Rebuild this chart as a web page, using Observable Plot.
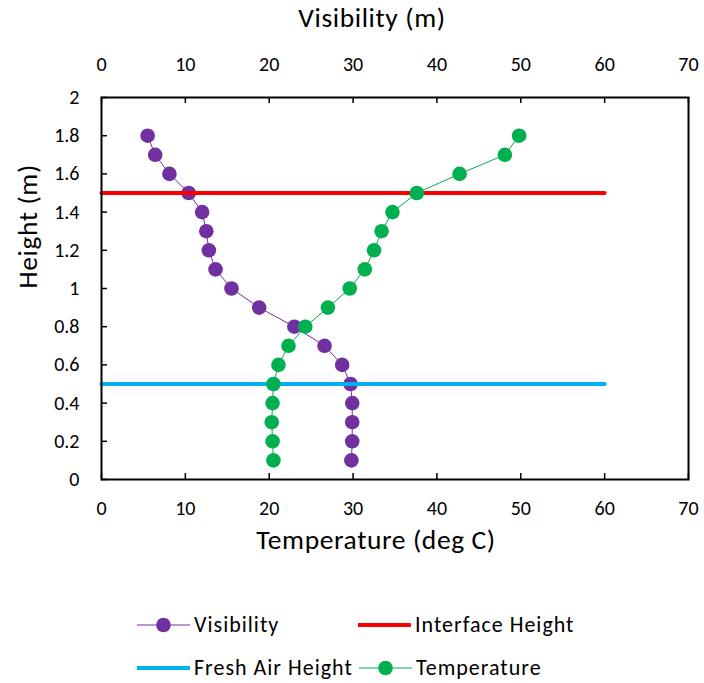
<!DOCTYPE html>
<html>
<head>
<meta charset="utf-8">
<script src="https://cdn.jsdelivr.net/npm/d3@7"></script>
<script src="https://cdn.jsdelivr.net/npm/@observablehq/plot@0.6"></script>
<style>
  html, body { margin: 0; padding: 0; background: #fff; }
  body { font-family: Carlito, Calibri, Lato, "Open Sans", sans-serif; }
  #wrap { position: relative; width: 704px; height: 683px; overflow: hidden; }
  .item { position: absolute; display: flex; align-items: center; font-size: 22px; letter-spacing: 1px; color: #000; white-space: nowrap; }
  .item svg { margin-right: 4px; }
  .axis-title { letter-spacing: 0.6px; }
</style>
</head>
<body>
<div id="wrap"></div>
<script>
// Measurement heights (m)
const heights = [1.8, 1.7, 1.6, 1.5, 1.4, 1.3, 1.2, 1.1, 1.0, 0.9, 0.8, 0.7, 0.6, 0.5, 0.4, 0.3, 0.2, 0.1];
// Visibility (m) at each height
const visibility = [5.5, 6.4, 8.1, 10.4, 12.0, 12.5, 12.8, 13.6, 15.5, 18.8, 23.0, 26.6, 28.7, 29.7, 29.9, 29.9, 29.9, 29.8];
// Temperature (deg C) at each height
const temperature = [49.8, 48.1, 42.7, 37.6, 34.7, 33.4, 32.5, 31.4, 29.6, 27.0, 24.3, 22.3, 21.1, 20.5, 20.4, 20.3, 20.4, 20.5];
// Layer heights, drawn across 0–60 on the horizontal axis
const interfaceHeight = 1.5;
const freshAirHeight = 0.5;
const layerSpan = [0, 60];
// Axis ticks
const xTicks = [0, 10, 20, 30, 40, 50, 60, 70];
const yTicks = [0, 0.2, 0.4, 0.6, 0.8, 1, 1.2, 1.4, 1.6, 1.8, 2];

const colors = {
  visibility: "#7030A0",
  interface: "#FF0000",
  freshAir: "#00B0F0",
  temperature: "#00B050"
};

const visData = heights.map((h, i) => ({h, v: visibility[i]}));
const tempData = heights.map((h, i) => ({h, v: temperature[i]}));
const interfaceLine = layerSpan.map(x => ({x, h: interfaceHeight}));
const freshLine = layerSpan.map(x => ({x, h: freshAirHeight}));

const fmt = d => String(+d.toFixed(1));
const FONT = 'Carlito, Calibri, Lato, "Open Sans", sans-serif';

const chart = Plot.plot({
  width: 704,
  height: 560,
  marginTop: 97,
  marginBottom: 81,
  marginLeft: 101,
  marginRight: 16,
  style: {fontFamily: FONT, fontSize: "20px", color: "#000", background: "#fff", overflow: "visible"},
  x: {domain: [0, 70]},
  y: {domain: [0, 2]},
  marks: [
    // axes (labels only; ticks point inward and are drawn below)
    Plot.axisX(xTicks, {anchor: "top", tickSize: 0, tickPadding: 27, label: null, tickFormat: fmt}),
    Plot.axisX(xTicks, {anchor: "bottom", tickSize: 0, tickPadding: 21, label: null, tickFormat: fmt}),
    Plot.axisY(yTicks, {anchor: "left", tickSize: 0, tickPadding: 22, label: null, tickFormat: fmt}),
    Plot.tickX(xTicks, {x: d => d, stroke: "#000", strokeWidth: 1.5, insetTop: 376}),
    Plot.tickX(xTicks, {x: d => d, stroke: "#000", strokeWidth: 1.5, insetBottom: 376}),
    Plot.tickY(yTicks, {y: d => d, stroke: "#000", strokeWidth: 1.5, insetRight: 581}),
    // axis titles
    Plot.text(["Visibility (m)"], {frameAnchor: "top", lineAnchor: "middle", dy: -79, dx: -23, fontSize: 27.5, fill: "#000", className: "axis-title"}),
    Plot.text(["Temperature (deg C)"], {frameAnchor: "bottom", lineAnchor: "middle", dy: 61, dx: -19, fontSize: 27.5, fill: "#000", className: "axis-title"}),
    Plot.text(["Height (m)"], {frameAnchor: "left", lineAnchor: "middle", dx: -73, rotate: -90, fontSize: 27.5, fill: "#000", className: "axis-title"}),
    // Visibility series
    Plot.line(visData, {x: "v", y: "h", stroke: colors.visibility, strokeWidth: 1}),
    Plot.dot(visData, {x: "v", y: "h", r: 7.3, fill: colors.visibility, stroke: "none"}),
    // layer heights
    Plot.line(interfaceLine, {x: "x", y: "h", stroke: colors.interface, strokeWidth: 4}),
    Plot.line(freshLine, {x: "x", y: "h", stroke: colors.freshAir, strokeWidth: 4}),
    // Temperature series
    Plot.line(tempData, {x: "v", y: "h", stroke: colors.temperature, strokeWidth: 1}),
    Plot.dot(tempData, {x: "v", y: "h", r: 7.3, fill: colors.temperature, stroke: "none"}),
    Plot.frame({stroke: "#000", strokeWidth: 2})
  ]
});

const wrap = document.getElementById("wrap");
wrap.appendChild(chart);

// legend
const legendItems = [
  {label: "Visibility", color: colors.visibility, marker: true, left: 137, top: 611},
  {label: "Interface Height", color: colors.interface, marker: false, left: 358, top: 611},
  {label: "Fresh Air Height", color: colors.freshAir, marker: false, left: 137, top: 654},
  {label: "Temperature", color: colors.temperature, marker: true, left: 359, top: 654}
];
for (const it of legendItems) {
  const div = document.createElement("div");
  div.className = "item";
  div.style.left = it.left + "px";
  div.style.top = it.top + "px";
  const sw = it.marker
    ? `<svg width="53" height="24"><line x1="0" x2="53" y1="12" y2="12" stroke="${it.color}" stroke-width="1"/><circle cx="26.5" cy="12" r="7.3" fill="${it.color}"/></svg>`
    : `<svg width="53" height="24"><line x1="1" x2="52" y1="12" y2="12" stroke="${it.color}" stroke-width="4" stroke-linecap="round"/></svg>`;
  div.innerHTML = sw + `<span>${it.label}</span>`;
  wrap.appendChild(div);
}
</script>
</body>
</html>
